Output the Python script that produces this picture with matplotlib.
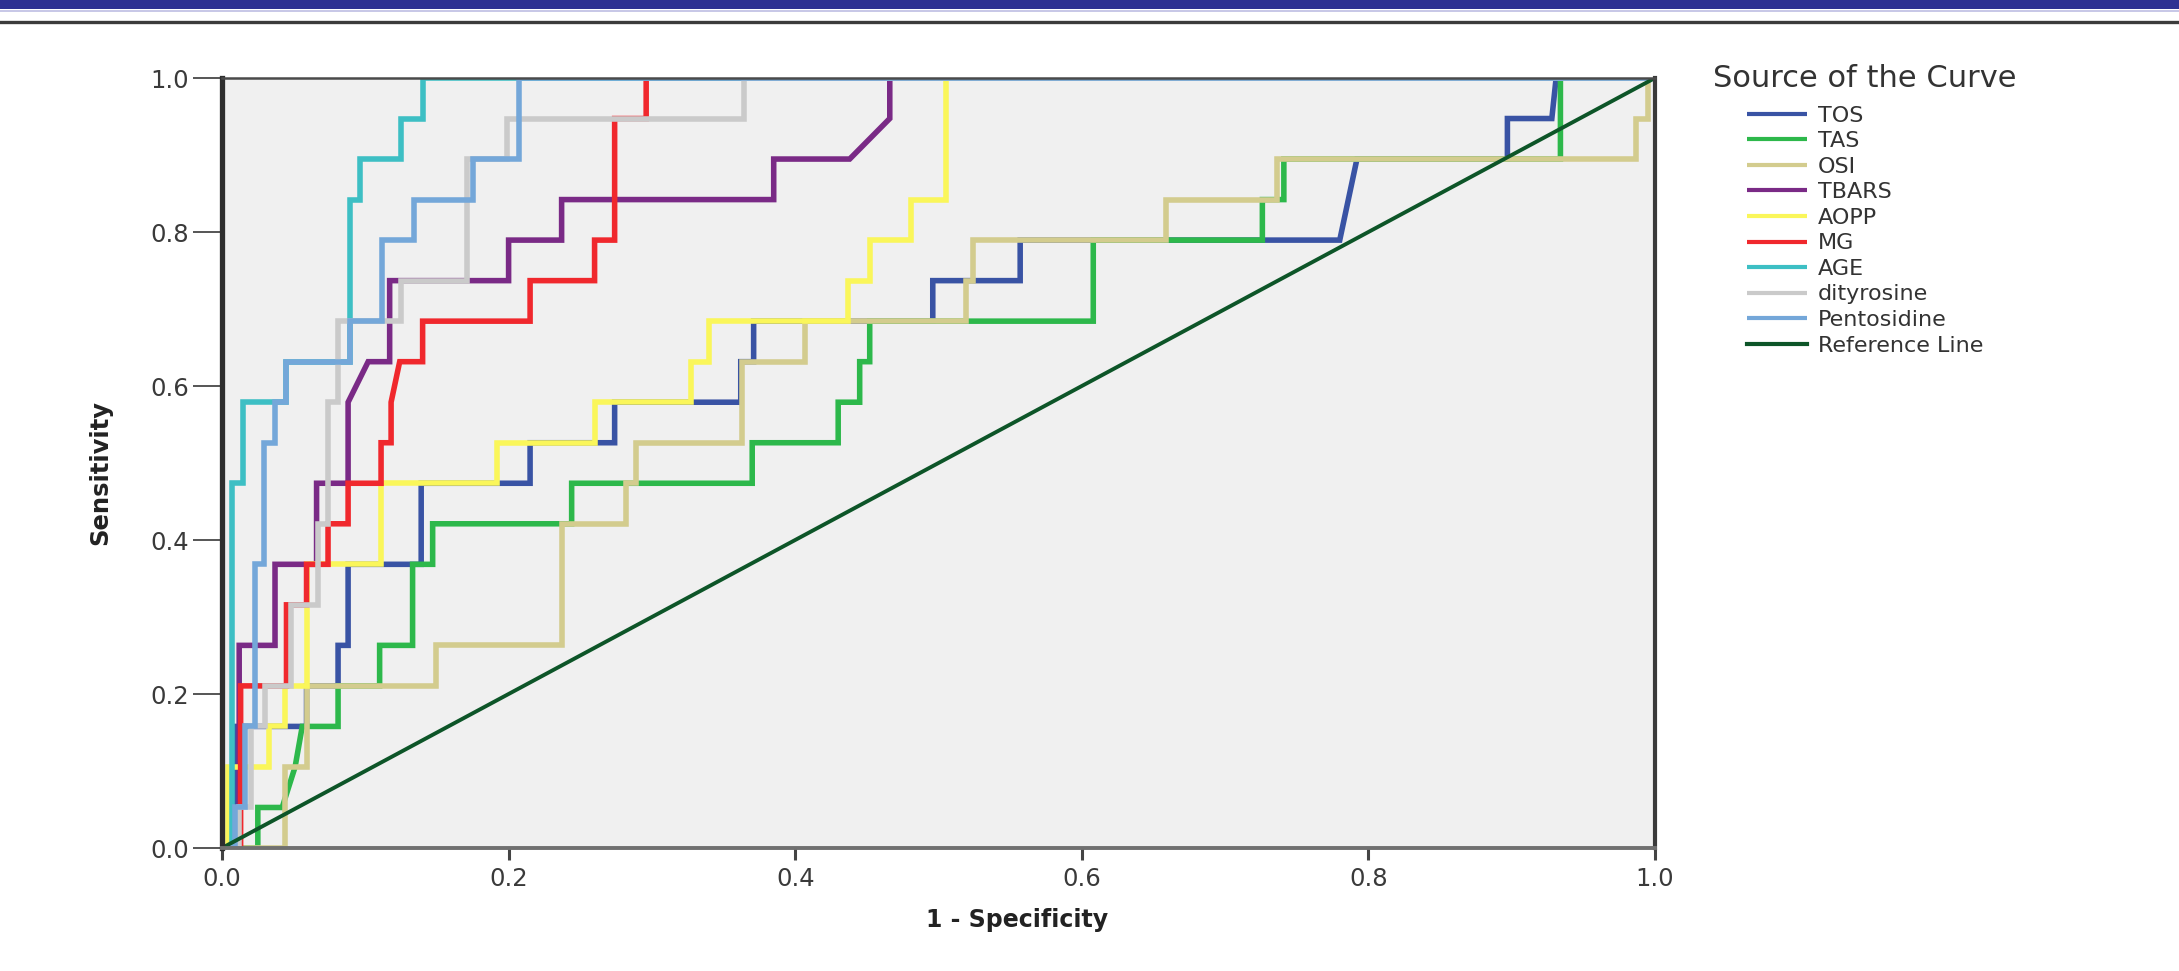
import matplotlib
matplotlib.use("Agg")
import matplotlib.pyplot as plt
from matplotlib.lines import Line2D
from matplotlib.patches import Rectangle

# ROC curves read off the SPSS output: 19 positive cases, so sensitivity moves
# in steps of 1/19. x = 1 - specificity at each vertex, hits = true positives.
N_POS = 19

curve_names = ["TOS", "TAS", "OSI", "TBARS", "AOPP", "MG", "AGE", "dityrosine", "Pentosidine"]
curve_colors = ["#3953A4", "#2DB84B", "#D3CC8E", "#7A2A86", "#FAF65A",
                "#F0282D", "#3DBFC4", "#CACACA", "#74A7D9"]

tos_fpr = [0, 0.010, 0.010, 0.059, 0.059, 0.081, 0.081, 0.088, 0.088, 0.139, 0.139, 0.215, 0.215,
           0.274, 0.274, 0.362, 0.362, 0.371, 0.371, 0.496, 0.496, 0.557, 0.557, 0.780, 0.792,
           0.897, 0.897, 0.928, 0.931, 1.0]
tos_hits = [0, 0, 3, 3, 4, 4, 5, 5, 7, 7, 9, 9, 10, 10, 11, 11, 12, 12, 13, 13, 14, 14, 15, 15, 17,
            17, 18, 18, 19, 19]

tas_fpr = [0, 0.025, 0.025, 0.042, 0.051, 0.056, 0.081, 0.081, 0.110, 0.110, 0.133, 0.133, 0.147,
           0.147, 0.244, 0.244, 0.370, 0.370, 0.430, 0.430, 0.445, 0.445, 0.452, 0.452, 0.608,
           0.608, 0.726, 0.726, 0.741, 0.741, 0.934, 0.934, 1.0]
tas_hits = [0, 0, 1, 1, 2, 3, 3, 4, 4, 5, 5, 7, 7, 8, 8, 9, 9, 10, 10, 11, 11, 12, 12, 13, 13, 15,
            15, 16, 16, 17, 17, 19, 19]

osi_fpr = [0, 0.044, 0.044, 0.059, 0.059, 0.149, 0.149, 0.237, 0.237, 0.282, 0.282, 0.289, 0.289,
           0.363, 0.363, 0.407, 0.407, 0.519, 0.519, 0.524, 0.524, 0.659, 0.659, 0.736, 0.736,
           0.987, 0.987, 0.995, 0.995, 1.0]
osi_hits = [0, 0, 2, 2, 4, 4, 5, 5, 8, 8, 9, 9, 10, 10, 12, 12, 13, 13, 14, 14, 15, 15, 16, 16, 17,
            17, 18, 18, 19, 19]

tbars_fpr = [0, 0.012, 0.012, 0.037, 0.037, 0.066, 0.066, 0.088, 0.088, 0.102, 0.117, 0.117, 0.200,
             0.200, 0.237, 0.237, 0.385, 0.385, 0.438, 0.466, 0.466, 1.0]
tbars_hits = [0, 0, 5, 5, 7, 7, 9, 9, 11, 12, 12, 14, 14, 15, 15, 16, 16, 17, 17, 18, 19, 19]

aopp_fpr = [0, 0.004, 0.004, 0.033, 0.033, 0.044, 0.044, 0.059, 0.059, 0.111, 0.111, 0.192, 0.192,
            0.260, 0.260, 0.327, 0.327, 0.340, 0.340, 0.437, 0.437, 0.452, 0.452, 0.481, 0.481,
            0.505, 0.505, 1.0]
aopp_hits = [0, 0, 2, 2, 3, 3, 4, 4, 7, 7, 9, 9, 10, 10, 11, 11, 12, 12, 13, 13, 14, 14, 15, 15, 16,
             16, 19, 19]

mg_fpr = [0, 0.013, 0.013, 0.045, 0.045, 0.059, 0.059, 0.074, 0.074, 0.088, 0.088, 0.111, 0.111,
          0.118, 0.118, 0.124, 0.140, 0.140, 0.215, 0.215, 0.260, 0.260, 0.274, 0.274, 0.296,
          0.296, 1.0]
mg_hits = [0, 0, 4, 4, 6, 6, 7, 7, 8, 8, 9, 9, 10, 10, 11, 12, 12, 13, 13, 14, 14, 15, 15, 18, 18,
           19, 19]

age_fpr = [0, 0.007, 0.007, 0.015, 0.015, 0.045, 0.045, 0.089, 0.089, 0.096, 0.096, 0.125, 0.125,
           0.140, 0.140, 1.0]
age_hits = [0, 0, 9, 9, 11, 11, 12, 12, 16, 16, 17, 17, 18, 18, 19, 19]

dity_fpr = [0, 0.012, 0.012, 0.020, 0.020, 0.030, 0.030, 0.048, 0.048, 0.067, 0.067, 0.074, 0.074,
            0.081, 0.081, 0.125, 0.125, 0.171, 0.171, 0.199, 0.199, 0.364, 0.364, 1.0]
dity_hits = [0, 0, 1, 1, 3, 3, 4, 4, 6, 6, 8, 8, 11, 11, 13, 13, 14, 14, 17, 17, 18, 18, 19, 19]

pento_fpr = [0, 0.009, 0.009, 0.016, 0.016, 0.023, 0.023, 0.029, 0.029, 0.037, 0.037, 0.045, 0.045,
             0.089, 0.089, 0.112, 0.112, 0.134, 0.134, 0.175, 0.175, 0.207, 0.207, 1.0]
pento_hits = [0, 0, 1, 1, 3, 3, 7, 7, 10, 10, 11, 11, 12, 12, 13, 13, 15, 15, 16, 16, 17, 17, 19, 19]

ref_fpr = [0.0, 1.0]
ref_tpr = [0.0, 1.0]

tick_vals = [0.0, 0.2, 0.4, 0.6, 0.8, 1.0]
tick_labels = ["0.0", "0.2", "0.4", "0.6", "0.8", "1.0"]

all_fpr = [tos_fpr, tas_fpr, osi_fpr, tbars_fpr, aopp_fpr, mg_fpr, age_fpr, dity_fpr, pento_fpr]
all_hits = [tos_hits, tas_hits, osi_hits, tbars_hits, aopp_hits, mg_hits, age_hits, dity_hits, pento_hits]

W, H = 2179, 971
fig = plt.figure(figsize=(W / 100, H / 100), dpi=100)

# page header strip (blue band + rules) from the source document
fig.add_artist(Rectangle((0, 1 - 9 / H), 1, 9 / H, transform=fig.transFigure,
                         color="#2E3192", lw=0))
fig.add_artist(Line2D([0, 1], [1 - 11 / H] * 2, transform=fig.transFigure, color="#BDBEE3", lw=1.2))
fig.add_artist(Line2D([0, 1], [1 - 22 / H] * 2, transform=fig.transFigure, color="#3C3C3C", lw=2.4))

ax = fig.add_axes([222 / W, 1 - 848 / H, 1433 / W, 770 / H])
ax.set_facecolor("#F0F0F0")

for name, col, fx, hits in zip(curve_names, curve_colors, all_fpr, all_hits):
    ax.plot(fx, [h / N_POS for h in hits], color=col, lw=4, label=name,
            solid_joinstyle="miter", solid_capstyle="butt")
ax.plot(ref_fpr, ref_tpr, color="#0D5528", lw=2.8, label="Reference Line")

ax.set_xlim(0, 1)
ax.set_ylim(0, 1)
ax.set_xticks(tick_vals)
ax.set_xticklabels(tick_labels)
ax.set_yticks(tick_vals)
ax.set_yticklabels(tick_labels)
ax.tick_params(axis="x", direction="out", length=8.6, width=2.2, color="#444444",
               labelsize=17.5, labelcolor="#3A3A3A", pad=5)
ax.tick_params(axis="y", direction="out", length=21, width=1.4, color="#555555",
               labelsize=17.5, labelcolor="#3A3A3A", pad=3)

ax.spines["left"].set_linewidth(3.8)
ax.spines["left"].set_color("#2E2E2E")
ax.spines["right"].set_linewidth(3.0)
ax.spines["right"].set_color("#3A3A3A")
ax.spines["bottom"].set_linewidth(2.8)
ax.spines["bottom"].set_color("#707070")
ax.spines["top"].set_linewidth(1.8)
ax.spines["top"].set_color("#4A4A4A")

ax.set_xlabel("1 - Specificity", fontsize=17, fontweight="bold", color="#222222", va="center")
ax.xaxis.set_label_coords(0.555, -0.0935)
ax.set_ylabel("Sensitivity", fontsize=17.5, fontweight="bold", color="#222222", va="center")
ax.yaxis.set_label_coords(-0.085, 0.488)

leg = ax.legend(loc="upper left", bbox_to_anchor=(1702 / W, 1 - 53 / H),
                bbox_transform=fig.transFigure, frameon=False,
                title="Source of the Curve", title_fontsize=22, fontsize=16,
                handlelength=2.7, handletextpad=0.5, labelspacing=0.25, borderpad=0)
leg._legend_box.sep = 9
leg.get_title().set_color("#333333")
for t in leg.get_texts():
    t.set_color("#333333")
for h in leg.get_lines():
    h.set_linewidth(3)

fig.savefig("out.png", dpi=100)
